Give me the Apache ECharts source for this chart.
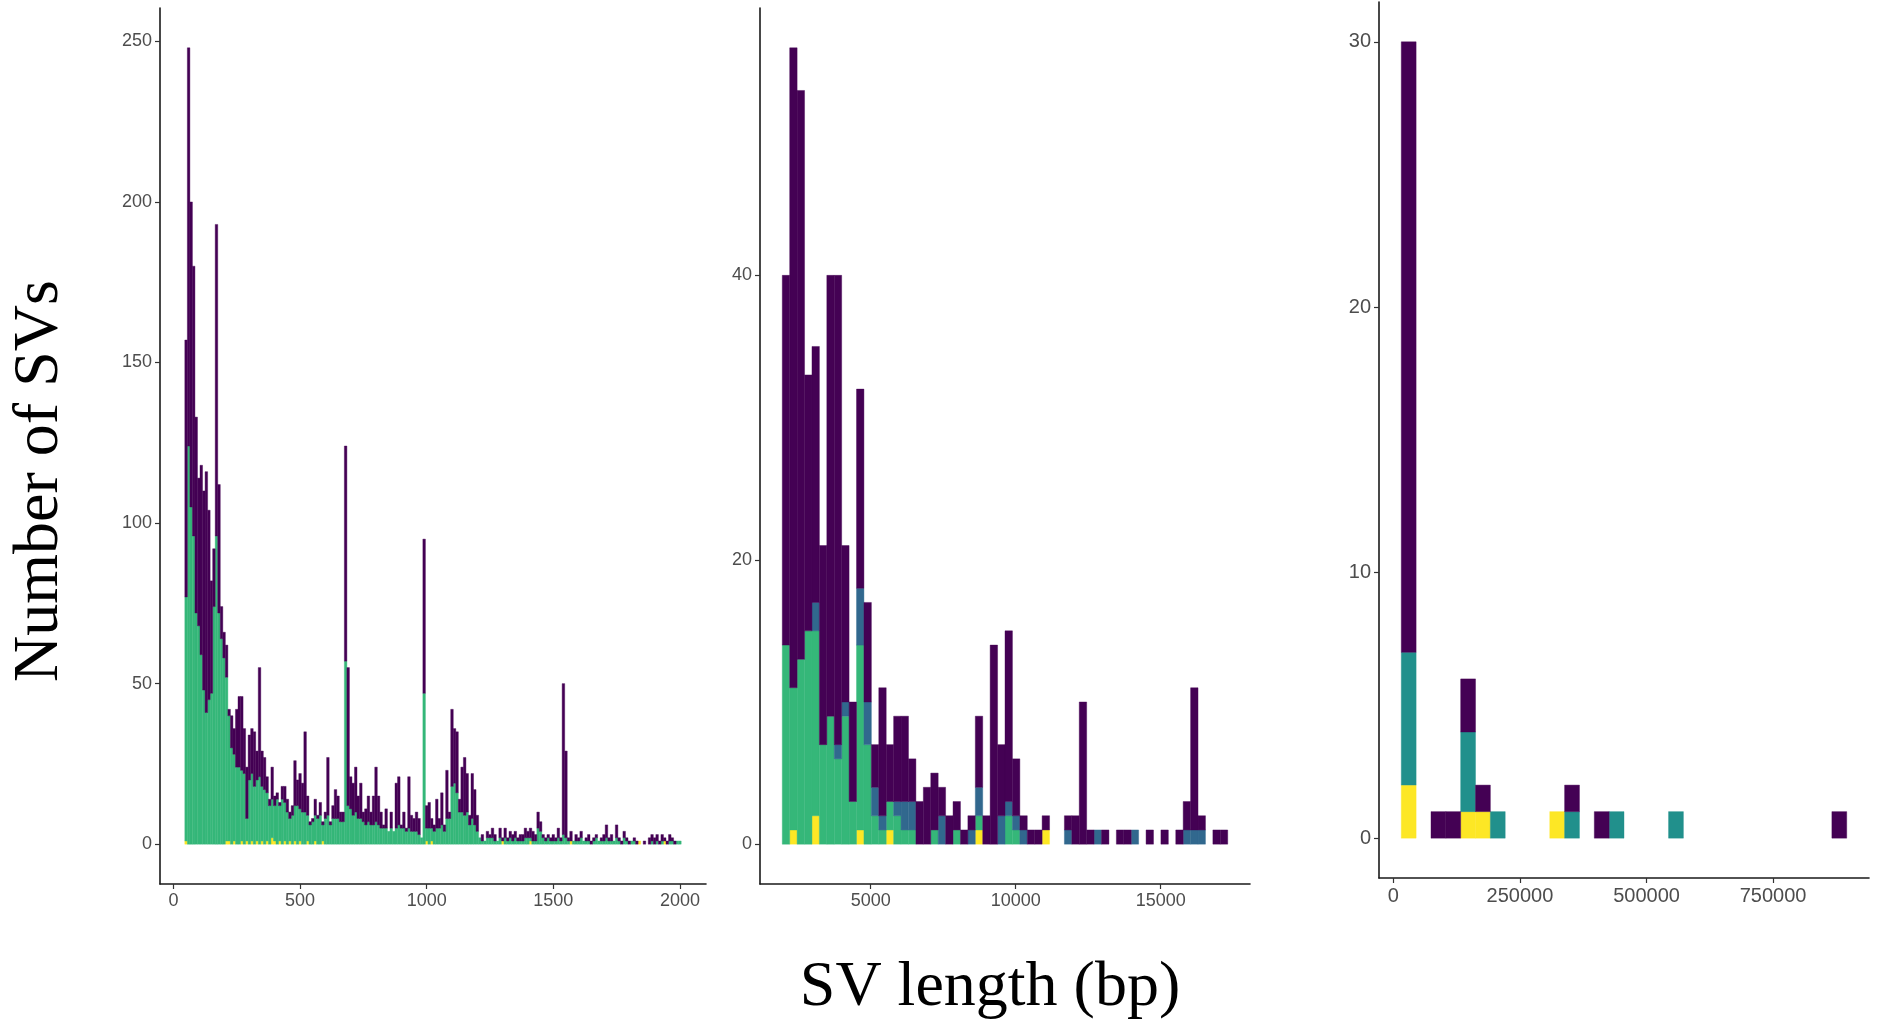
<!DOCTYPE html>
<html lang="en">
  <head>
    <meta charset="UTF-8" />
    <title>SV length histograms</title>
    <style>
      html, body { margin: 0; padding: 0; background: #fff; }
      #main { width: 1885px; height: 1022px; }
    </style>
  </head>
  <body>
    <div id="main"></div>
    <script src="https://cdn.jsdelivr.net/npm/echarts@6.0.0/dist/echarts.min.js"></script>
    <script>
      // panel 1: 50-2000 bp, bins of 10 bp (first bin starts at 45)
      const p1Start = 45;
      const p1Width = 10;
      const p1Purple = [80,124,95,84,61,46,59,62,75,59, 35,18,97,40,10,8,10,2,10,8,
        18,22,23,14,16,14,14,17,9,34, 11,10,5,2,10,3,2,1,4,5,
        4,2,3,14,8,11,9,25,6,1, 1,5,1,4,1,2,18,1,4,9,
        7,3,3,67,43,10,10,14,7,11, 3,5,8,4,9,17,9,5,1,6,
        0,5,0,14,15,1,5,1,16,5, 4,6,5,0,48,7,8,3,2,9,
        3,10,2,15,2,24,17,19,4,14, 18,12,3,14,11,5,0,2,0,2,
        1,3,2,0,3,1,3,1,2,2, 2,1,2,2,3,2,3,3,2,5,
        3,1,1,1,1,2,1,3,1,47, 27,1,3,0,2,1,2,0,1,2,
        1,1,1,0,1,2,4,1,2,0, 4,1,1,2,1,1,0,1,1,0,
        0,1,0,2,2,2,2,1,2,1, 1,2,1,1,0,0];
      const p1Green = [76,124,105,96,72,68,59,48,41,45, 47,74,96,72,64,58,51,39,30,27,
        24,24,22,22,7,20,21,18,19,21, 17,17,15,12,12,11,14,11,14,12,
        10,7,9,11,12,10,10,10,8,6, 7,8,8,9,5,8,9,6,8,8,
        8,7,7,57,12,11,9,10,8,8, 7,6,7,6,6,7,6,5,5,5,
        4,5,4,5,6,5,5,4,5,4, 4,4,3,2,47,4,5,4,4,5,
        5,6,4,8,8,18,19,16,10,10, 9,10,6,8,6,4,2,1,1,2,
        2,2,1,1,2,0,2,1,2,1, 2,1,1,1,2,2,1,1,1,5,
        4,2,1,2,1,1,1,2,1,3, 2,1,0,1,1,1,2,1,1,1,
        0,1,2,1,1,1,2,1,1,1, 2,1,0,2,1,0,1,1,0,0,
        0,0,0,0,1,0,1,0,1,0, 0,1,1,0,1,1];
      const p1Yellow = [1,0,0,0,0,0,0,0,0,0, 0,0,0,0,0,0,1,1,0,1,
        0,0,1,0,1,0,1,0,1,0, 1,0,1,0,2,1,0,1,0,1,
        0,1,0,1,0,1,0,0,1,0, 0,1,0,0,1,0,0,0,0,0,
        0,0,0,0,0,0,0,0,0,0, 0,0,0,0,0,0,0,0,0,0,
        0,0,0,0,0,0,0,0,0,0, 0,0,0,0,0,1,0,1,0,0,
        0,0,0,0,0,0,0,0,0,0, 0,0,0,0,0,0,0,0,0,0,
        0,0,0,0,0,1,0,0,0,0, 0,0,0,0,0,0,1,0,0,0,
        0,0,0,0,0,0,0,0,0,0, 0,0,1,0,0,0,0,0,0,0,
        0,0,0,0,0,0,0,0,0,0, 0,0,0,0,0,0,0,0,0,1,
        0,0,0,0,0,0,0,0,0,1, 0,0,0,0,0,0];

      // panel 2: 2000-17500 bp, 60 bins
      const p2Start = 1950;
      const p2Width = 256;
      const p2Purple = [26,45,40,18,18,14,31,33,11,7, 14,7,3,9,4,6,6,3,3,4,
        4,2,2,2,1,1,5,2,14,5, 12,4,1,1,1,1,0,0,1,2,
        10,1,0,1,0,1,1,0,0,1, 0,1,0,1,2,10,1,0,1,1];
      const p2Blue = [0,0,0,0,2,0,0,1,1,0, 4,3,2,1,0,1,2,2,0,0,
        0,2,0,0,0,1,2,0,0,2, 1,1,1,0,0,0,0,0,1,0,
        0,0,1,0,0,0,0,1,0,0, 0,0,0,0,1,1,1,0,0,0];
      const p2Green = [14,10,13,15,13,7,9,6,9,3, 13,7,2,1,2,2,1,1,0,0,
        1,0,0,1,0,0,1,0,0,0, 2,1,0,0,0,0,0,0,0,0,
        0,0,0,0,0,0,0,0,0,0, 0,0,0,0,0,0,0,0,0,0];
      const p2Yellow = [0,1,0,0,2,0,0,0,0,0, 1,0,0,0,1,0,0,0,0,0,
        0,0,0,0,0,0,1,0,0,0, 0,0,0,0,0,1,0,0,0,0,
        0,0,0,0,0,0,0,0,0,0, 0,0,0,0,0,0,0,0,0,0];

      // panel 3: large SVs, 30 bins
      const p3Start = 15600;
      const p3Width = 29330;
      const p3Purple = [23,0,1,1,2,1,0,0,0,0, 0,1,0,1,0,0,0,0,0,0, 0,0,0,0,0,0,0,0,0,1];
      const p3Teal = [5,0,0,0,3,0,1,0,0,0, 0,1,0,0,1,0,0,0,1,0, 0,0,0,0,0,0,0,0,0,0];
      const p3Yellow = [2,0,0,0,1,1,0,0,0,0, 1,0,0,0,0,0,0,0,0,0, 0,0,0,0,0,0,0,0,0,0];

      // tick values
      const p1YTicks = [0, 50, 100, 150, 200, 250];
      const p1XTicks = [0, 500, 1000, 1500, 2000];
      const p2YTicks = [0, 20, 40];
      const p2XTicks = [5000, 10000, 15000];
      const p3YTicks = [0, 10, 20, 30];
      const p3XTicks = [0, 250000, 500000, 750000];

      const PURPLE = "#440154";
      const BLUE = "#31688e";
      const TEAL = "#21908c";
      const GREEN = "#35b779";
      const YELLOW = "#fde725";

      const myChart = echarts.init(document.getElementById("main"));

      function renderRect(params, api) {
        const a = api.coord([api.value(0), api.value(3)]);
        const b = api.coord([api.value(1), api.value(2)]);
        const color = api.visual("color");
        return {
          type: "rect",
          shape: { x: a[0], y: a[1], width: b[0] - a[0], height: b[1] - a[1] },
          style: { fill: color, stroke: color, lineWidth: 0.4 },
        };
      }

      // layers are given bottom to top
      function stackSeries(idx, start, width, layers) {
        const n = layers[0].values.length;
        const base = new Array(n).fill(0);
        const out = [];
        layers.forEach((layer) => {
          const data = [];
          for (let i = 0; i < n; i++) {
            const v = layer.values[i];
            if (v > 0) {
              const x0 = start + i * width;
              data.push([x0, x0 + width, base[i], base[i] + v]);
              base[i] += v;
            }
          }
          out.push({
            type: "custom",
            xAxisIndex: idx,
            yAxisIndex: idx,
            renderItem: renderRect,
            itemStyle: { color: layer.color },
            encode: { x: [0, 1], y: [2, 3] },
            data: data,
            silent: true,
          });
        });
        return out;
      }

      // plain numbers, no thousands separator
      const plain = (v) => String(v);

      function xAxis(idx, min, max, ticks, size) {
        return {
          type: "value",
          gridIndex: idx,
          min: min,
          max: max,
          position: "bottom",
          axisLine: { onZero: false, lineStyle: { color: "#1a1a1a", width: 1.6 } },
          axisTick: { length: 5, customValues: ticks, lineStyle: { color: "#333", width: 1.2 } },
          axisLabel: {
            customValues: ticks,
            formatter: plain,
            color: "#4d4d4d",
            fontSize: size,
            fontFamily: "Liberation Sans",
            margin: 8,
            showMinLabel: true,
            showMaxLabel: true,
          },
          splitLine: { show: false },
        };
      }

      function yAxis(idx, min, max, ticks, size) {
        return {
          type: "value",
          gridIndex: idx,
          min: min,
          max: max,
          axisLine: { show: true, onZero: false, lineStyle: { color: "#1a1a1a", width: 1.6 } },
          axisTick: { show: true, length: 5, customValues: ticks, lineStyle: { color: "#333", width: 1.2 } },
          axisLabel: {
            customValues: ticks,
            formatter: plain,
            color: "#4d4d4d",
            fontSize: size,
            fontFamily: "Liberation Sans",
            margin: 8,
          },
          splitLine: { show: false },
        };
      }

      const option = {
        backgroundColor: "#fff",
        animation: false,
        grid: [
          { left: 160, top: 8, width: 546, height: 876 },
          { left: 760, top: 8, width: 490, height: 876 },
          { left: 1379, top: 2, width: 490, height: 876 },
        ],
        xAxis: [
          xAxis(0, -53, 2103, p1XTicks, 18),
          xAxis(1, 1182, 18078, p2XTicks, 18),
          xAxis(2, -28400, 939500, p3XTicks, 20),
        ],
        yAxis: [
          yAxis(0, -12.4, 260.4, p1YTicks, 18),
          yAxis(1, -2.8, 58.8, p2YTicks, 18),
          yAxis(2, -1.5, 31.5, p3YTicks, 20),
        ],
        graphic: [
          {
            type: "text",
            x: 40,
            y: 481,
            rotation: Math.PI / 2,
            style: {
              text: "Number of SVs",
              font: "64px 'Liberation Serif', 'DejaVu Serif', serif",
              fill: "#000",
              align: "center",
              verticalAlign: "middle",
            },
          },
          {
            type: "text",
            x: 990,
            y: 988,
            style: {
              text: "SV length (bp)",
              font: "64px 'Liberation Serif', 'DejaVu Serif', serif",
              fill: "#000",
              align: "center",
              verticalAlign: "middle",
            },
          },
        ],
        series: [
          ...stackSeries(0, p1Start, p1Width, [
            { values: p1Yellow, color: YELLOW },
            { values: p1Green, color: GREEN },
            { values: p1Purple, color: PURPLE },
          ]),
          ...stackSeries(1, p2Start, p2Width, [
            { values: p2Yellow, color: YELLOW },
            { values: p2Green, color: GREEN },
            { values: p2Blue, color: BLUE },
            { values: p2Purple, color: PURPLE },
          ]),
          ...stackSeries(2, p3Start, p3Width, [
            { values: p3Yellow, color: YELLOW },
            { values: p3Teal, color: TEAL },
            { values: p3Purple, color: PURPLE },
          ]),
        ],
      };
      myChart.setOption(option);
    </script>
  </body>
</html>
